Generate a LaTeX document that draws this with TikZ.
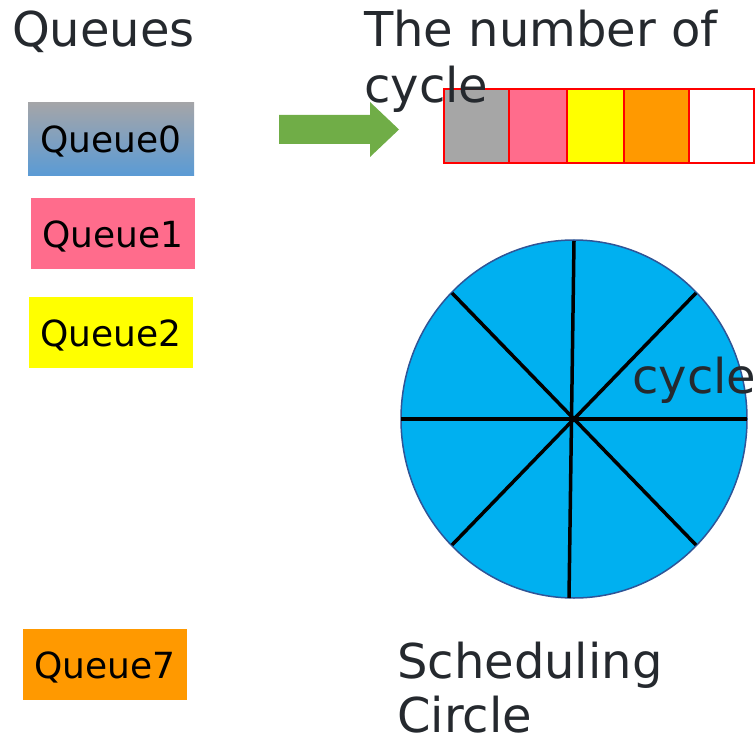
\documentclass[tikz,border=0pt]{standalone}
\usepackage{fontspec}
\setmainfont{DejaVu Sans}
\usetikzlibrary{shapes.geometric}
\definecolor{txtdark}{RGB}{37,41,46}
\definecolor{qgray}{RGB}{165,165,168}
\definecolor{qblue}{RGB}{91,155,213}
\definecolor{qpink}{RGB}{255,108,140}
\definecolor{qyellow}{RGB}{255,255,0}
\definecolor{qorange}{RGB}{255,153,0}
\definecolor{cgray}{RGB}{166,166,166}
\definecolor{garrow}{RGB}{112,173,71}
\definecolor{wheelfill}{RGB}{0,176,240}
\definecolor{wheeledge}{RGB}{47,85,151}
\tikzset{
  head/.style={inner sep=0pt, anchor=base west, text=txtdark, font=\fontsize{48}{56}\selectfont},
  qbox/.style={inner sep=0pt, anchor=north west, minimum width=164pt, minimum height=71pt, text depth=0pt, text=black, font=\fontsize{36}{40}\selectfont},
  cell/.style={draw=red, line width=2pt, inner sep=0pt, anchor=north west, minimum height=74pt},
  spoke/.style={line width=3.5pt, black},
}
\begin{document}
\begin{tikzpicture}[x=1pt,y=-1pt]
\useasboundingbox (0,0) rectangle (755,738);
% titles
\node[head] (queues) at (12,47) {Queues};
\node[head] (numA) at (364,47) {The number of};
% queue boxes
\node[qbox, top color=qgray, bottom color=qblue, minimum width=166pt, minimum height=73pt] (q0) at (28,102) {Queue0};
\node[qbox, fill=qpink] (q1) at (31,198) {Queue1};
\node[qbox, fill=qyellow] (q2) at (29,297) {Queue2};
\node[qbox, fill=qorange] (q7) at (23,629) {Queue7};
% green arrow
\fill[garrow] (279,115) -- (370,115) -- (370,102) -- (399,129.5) -- (370,157) -- (370,144) -- (279,144) -- cycle;
% cycle cells
\node[cell, fill=cgray, minimum width=65pt] (c1) at (443,88) {};
\node[cell, fill=qpink, minimum width=58pt] (c2) at (508,88) {};
\node[cell, fill=qyellow, minimum width=57pt] (c3) at (566,88) {};
\node[cell, fill=qorange, minimum width=65pt] (c4) at (623,88) {};
\node[cell, fill=white, minimum width=65pt] (c5) at (688,88) {};
\node[head] (numB) at (364,103) {cycle};
% scheduling circle
\node[ellipse, draw=wheeledge, line width=1.5pt, fill=wheelfill, inner sep=0pt, minimum width=346pt, minimum height=358pt] (wheel) at (574,419) {};
\draw[spoke] (574,241) -- (569,598);
\draw[spoke] (401,419) -- (747,419);
\draw[spoke] (452,293) -- (696,545);
\draw[spoke] (696,293) -- (452,545);
\node[head] (cyc) at (632,393) {cycle};
% bottom label
\node[head] (schedA) at (397,678) {Scheduling};
\node[head] (schedB) at (397,732) {Circle};
\end{tikzpicture}
\end{document}
